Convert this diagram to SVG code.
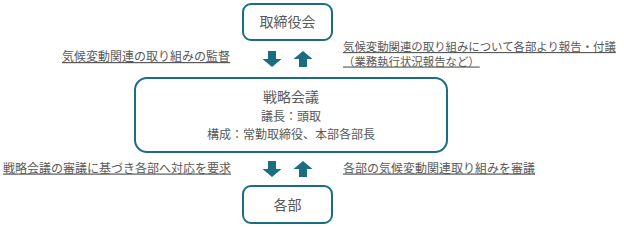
<svg xmlns="http://www.w3.org/2000/svg" width="624" height="227" viewBox="0 0 624 227">
<defs>
<style>
.box{fill:#fff;stroke:#1b6e82;stroke-width:2}
.t{font-family:"Noto Sans CJK JP","Noto Sans",sans-serif;fill:#595959;font-size:12px}
.u{text-decoration:underline}
.s{font-size:11.4px}
.h{font-size:14px}
.arr{fill:#1b6e82}
</style>
<path id="down" d="M-4,-8 H4 V0 H9.5 L0,8 L-9.5,0 H-4 Z"/>
<path id="up" d="M-4,8 H4 V0 H9.5 L0,-8 L-9.5,0 H-4 Z"/>
</defs>
<rect width="624" height="227" fill="#fff"/>
<g id="board">
<rect class="box" x="243" y="4" width="89" height="36" rx="8"/>
<text class="t h" x="287.5" y="27" text-anchor="middle">取締役会</text>
</g>
<g id="strategy">
<rect class="box" x="135" y="78" width="312" height="74" rx="12"/>
<text class="t h" x="291" y="101.5" text-anchor="middle">戦略会議</text>
<text class="t" x="291" y="121" text-anchor="middle">議長：頭取</text>
<text class="t" x="291" y="138.5" text-anchor="middle">構成：常勤取締役、本部各部長</text>
</g>
<g id="depts">
<rect class="box" x="243" y="186" width="89" height="37" rx="8"/>
<text class="t h" x="287.5" y="210" text-anchor="middle">各部</text>
</g>
<g id="connectors">
<use href="#down" class="arr" transform="translate(272,59)"/>
<use href="#up" class="arr" transform="translate(303,59)"/>
<use href="#down" class="arr" transform="translate(272,169)"/>
<use href="#up" class="arr" transform="translate(303,169)"/>
</g>
<g id="labels">
<text class="t u" x="62" y="61">気候変動関連の取り組みの監督</text>
<text class="t u s" x="343" y="51">気候変動関連の取り組みについて各部より報告・付議</text>
<text class="t u s" x="343" y="65.5">（業務執行状況報告など）</text>
<text class="t u" x="3" y="172.5">戦略会議の審議に基づき各部へ対応を要求</text>
<text class="t u" x="343" y="172.5">各部の気候変動関連取り組みを審議</text>
</g>
</svg>
